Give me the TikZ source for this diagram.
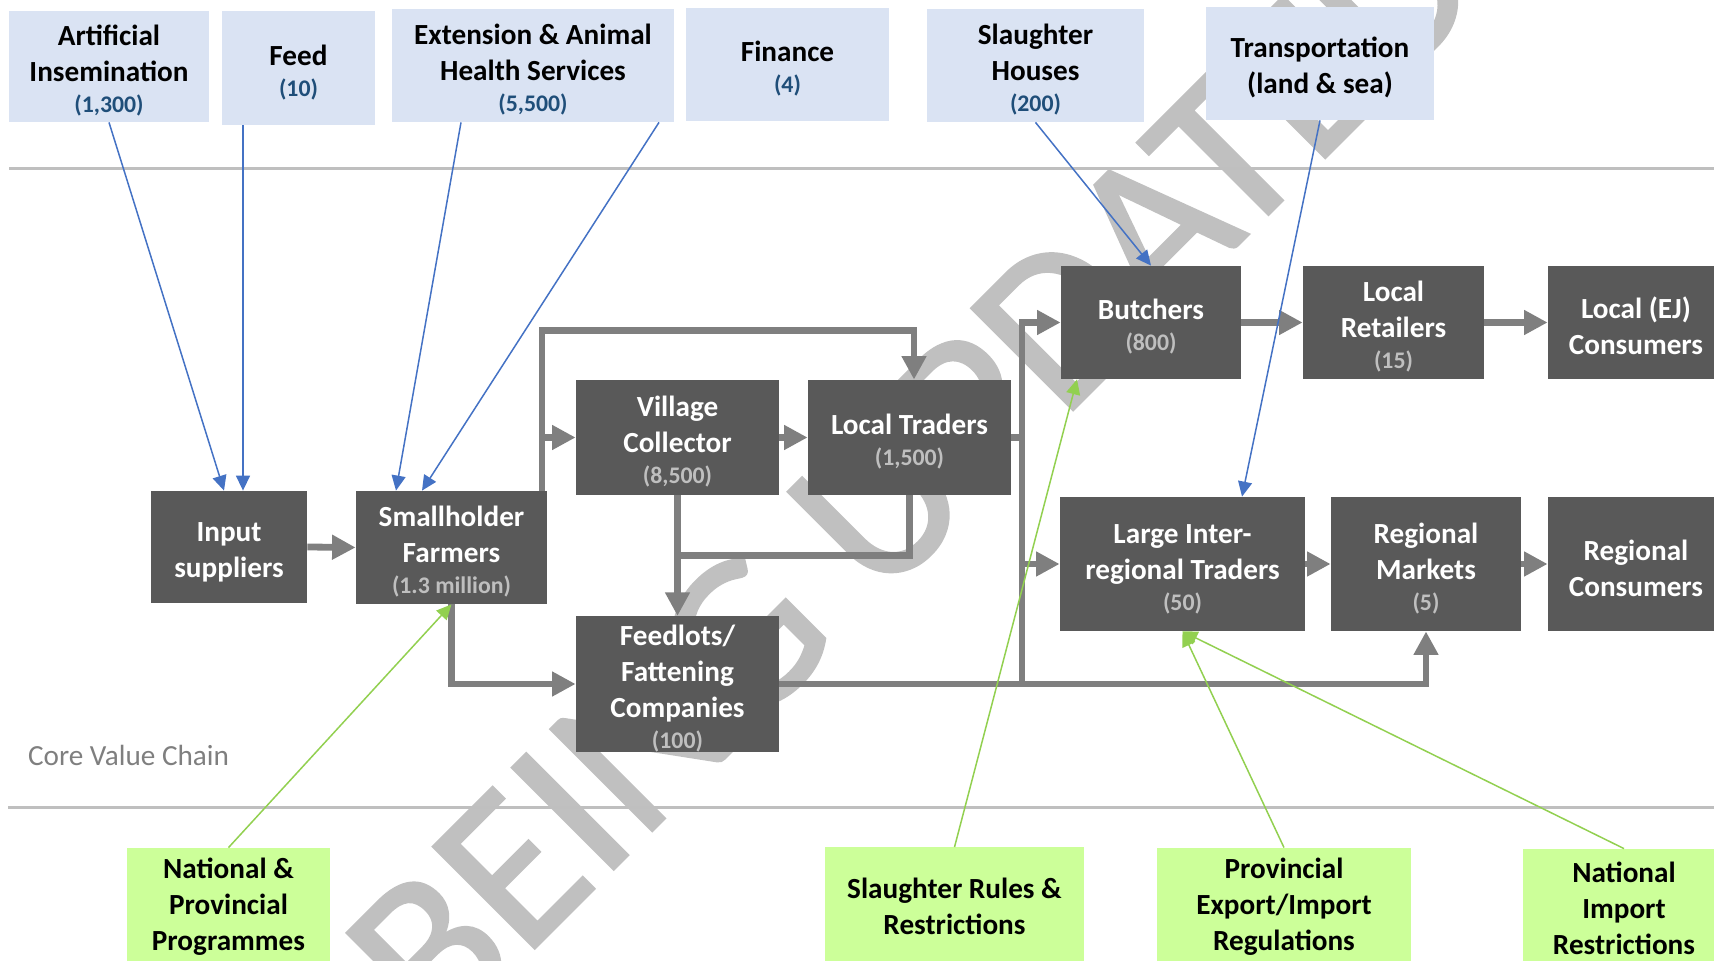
\documentclass[tikz,border=0pt]{standalone}
\usepackage{fontspec}
\setmainfont{Carlito}
\newfontfamily\wmfont[FakeBold=1.2]{Carlito}
\usepackage{tikz}
\usetikzlibrary{arrows.meta}
\definecolor{svcblue}{HTML}{DAE3F3}
\definecolor{reggreen}{HTML}{CCFF99}
\definecolor{corefill}{HTML}{595959}
\definecolor{numgray}{HTML}{BFBFBF}
\definecolor{numblue}{HTML}{1F4E79}
\definecolor{linkblue}{HTML}{4472C4}
\definecolor{linkgreen}{HTML}{92D050}
\definecolor{flowgray}{HTML}{7F7F7F}
\definecolor{sepgray}{HTML}{BFBFBF}
\definecolor{wmgray}{HTML}{C0C0C0}
\newcommand{\tstrut}{\rule{0pt}{14.6pt}}
\newcommand{\cnt}[1]{{\fontsize{11.9}{14}\selectfont\color{numgray}#1}}
\newcommand{\snt}[1]{{\fontsize{11.9}{14}\selectfont\color{numblue}#1}}
\tikzset{
  corebox/.style={fill=corefill, text=white, align=center, inner sep=0pt, font=\fontsize{14.6}{18}\selectfont\bfseries},
  svcbox/.style={fill=svcblue, text=black, align=center, inner sep=0pt, font=\fontsize{14.6}{18}\selectfont\bfseries},
  regbox/.style={fill=reggreen, text=black, align=center, inner sep=0pt, font=\fontsize{14.6}{18}\selectfont\bfseries},
  dims/.style 2 args={minimum width=#1, minimum height=#2},
  flow/.style={draw=flowgray, line width=3.4pt, -{Triangle[length=11.75pt,width=11.75pt]}},
  flowline/.style={draw=flowgray, line width=3.4pt},
  svclink/.style={draw=linkblue, line width=0.75pt, -{Triangle[length=7.5pt,width=7pt]}},
  reglink/.style={draw=linkgreen, line width=0.75pt, -{Triangle[length=7.5pt,width=7pt]}},
  sepline/.style={draw=sepgray, line width=1.5pt},
  wmark/.style={text=wmgray, font=\wmfont\fontsize{112}{112}\selectfont, inner sep=0pt}
}

\begin{document}
\begin{tikzpicture}[x=0.5pt, y=-0.5pt]
  \useasboundingbox (0,0) rectangle (1714,961);
  \clip (0,0) rectangle (1714,961);

  \node[wmark, rotate=45, anchor=base] (wm) at (963,520) {BEING UPDATED};

  \draw[sepline] (9,169) -- (1714,169);
  \draw[sepline] (8,808) -- (1714,808);

  \node[svcbox, dims={100pt}{55.5pt}]   (ai)    at (109,66.5)   {\tstrut Artificial\\Insemination\\[-2.7pt]\snt{(1,300)}};
  \node[svcbox, dims={76.5pt}{57pt}]    (feed)  at (298.5,68)   {\tstrut Feed\\[-2.7pt]\snt{(10)}};
  \node[svcbox, dims={141pt}{56.5pt}]   (ext)   at (533,65.5)   {\tstrut Extension \& Animal\\Health Services\\[-2.7pt]\snt{(5,500)}};
  \node[svcbox, dims={101.5pt}{56.5pt}] (fin)   at (787.5,64.5) {\tstrut Finance\\[-2.7pt]\snt{(4)}};
  \node[svcbox, dims={108.5pt}{56.5pt}] (slh)   at (1035.5,65.5){\tstrut Slaughter\\Houses\\[-2.7pt]\snt{(200)}};
  \node[svcbox, dims={114pt}{56.5pt}]   (trans) at (1320,63.5)  {\tstrut Transportation\\(land \& sea)};

  \node[corebox, dims={78pt}{56pt}]      (input)   at (229,547)     {\tstrut Input\\suppliers};
  \node[corebox, dims={95.5pt}{56.5pt}]  (farm)    at (451.5,547.5) {\tstrut Smallholder\\Farmers\\[-2.7pt]\cnt{(1.3 million)}};
  \node[corebox, dims={101.5pt}{57.5pt}] (vill)    at (677.5,437.5) {\tstrut Village\\Collector\\[-2.7pt]\cnt{(8,500)}};
  \node[corebox, dims={101.5pt}{57.5pt}] (ltr)     at (909.5,437.5) {\tstrut Local Traders\\[-2.7pt]\cnt{(1,500)}};
  \node[corebox, dims={101.5pt}{67pt}]   (feedlot) at (677.5,684)   {\tstrut Feedlots/\\Fattening\\Companies\\[-2.7pt]\cnt{(100)}};
  \node[corebox, dims={90pt}{56.5pt}]    (butch)   at (1151,322.5)  {\tstrut Butchers\\[-2.7pt]\cnt{(800)}};
  \node[corebox, dims={90.5pt}{56.5pt}]  (lret)    at (1393.5,322.5){\tstrut Local\\Retailers\\[-2.7pt]\cnt{(15)}};
  \node[corebox, dims={88pt}{56.5pt}]    (lcons)   at (1636,322.5)  {\tstrut Local (EJ)\\Consumers};
  \node[corebox, dims={122.5pt}{67pt}]   (large)   at (1182.5,564)  {\tstrut Large Inter-\\regional Traders\\[-2.7pt]\cnt{(50)}};
  \node[corebox, dims={95pt}{67pt}]      (rmkt)    at (1426,564)    {\tstrut Regional\\Markets\\[-2.7pt]\cnt{(5)}};
  \node[corebox, dims={88pt}{67pt}]      (rcons)   at (1636,564)    {\tstrut Regional\\Consumers};

  \node[anchor=west, text=flowgray, font=\fontsize{14.6}{18}\selectfont] (cvc) at (21,755) {Core Value Chain};

  \node[regbox, dims={101.5pt}{59pt}] (natprog) at (228.5,907)  {National \&\\Provincial\\Programmes};
  \node[regbox, dims={129.5pt}{59pt}] (slrules) at (954.5,906.5){Slaughter Rules \&\\Restrictions};
  \node[regbox, dims={127pt}{59pt}]   (provexp) at (1284,907)   {Provincial\\Export/Import\\Regulations};
  \node[regbox, dims={101pt}{59pt}]   (natimp)  at (1624,908)   {National\\Import\\Restrictions};

  \coordinate (bus) at (1022,684);
  \draw[flow] (input.east) -- (farm.west);
  \draw[flow] ([xshift=45.25pt]farm.north) |- (vill.west);
  \draw[flow] ([xshift=45.25pt]farm.north) |- ([yshift=24.5pt]vill.north) -| ([xshift=2.25pt]ltr.north);
  \draw[flow] (vill.east) -- (ltr.west);
  \draw[flow] (vill.south) -- (feedlot.north);
  \draw[flowline] (ltr.south) |- ([yshift=-30pt]vill.south);
  \draw[flow] (farm.south) |- (feedlot.west);
  \draw[flowline] (ltr.east) -| (bus);
  \draw[flow] (bus) |- (butch.west);
  \draw[flow] (bus) |- (large.west);
  \draw[flow] (feedlot.east) -| (rmkt.south);
  \draw[flow] (butch.east) -- (lret.west);
  \draw[flow] (lret.east) -- (lcons.west);
  \draw[flow] (large.east) -- (rmkt.west);
  \draw[flow] (rmkt.east) -- (rcons.west);

  \draw[svclink] (ai.south) -- ([xshift=-2.5pt]input.north);
  \draw[svclink] ([xshift=-27.75pt]feed.south) -- ([xshift=7pt]input.north);
  \draw[svclink] ([xshift=-36pt]ext.south) -- ([xshift=-27.75pt]farm.north);
  \draw[svclink] ([xshift=63pt]ext.south) -- ([xshift=-14.75pt]farm.north);
  \draw[svclink] (slh.south) -- (butch.north);
  \draw[svclink] (trans.south) -- ([xshift=29.75pt]large.north);
  \draw[reglink] (natprog.north) -- (farm.south);
  \draw[reglink] (slrules.north) -- ([xshift=-37pt]butch.south);
  \draw[reglink] (provexp.north) -- (large.south);
  \draw[reglink] (natimp.north) -- (large.south);
\end{tikzpicture}
\end{document}
